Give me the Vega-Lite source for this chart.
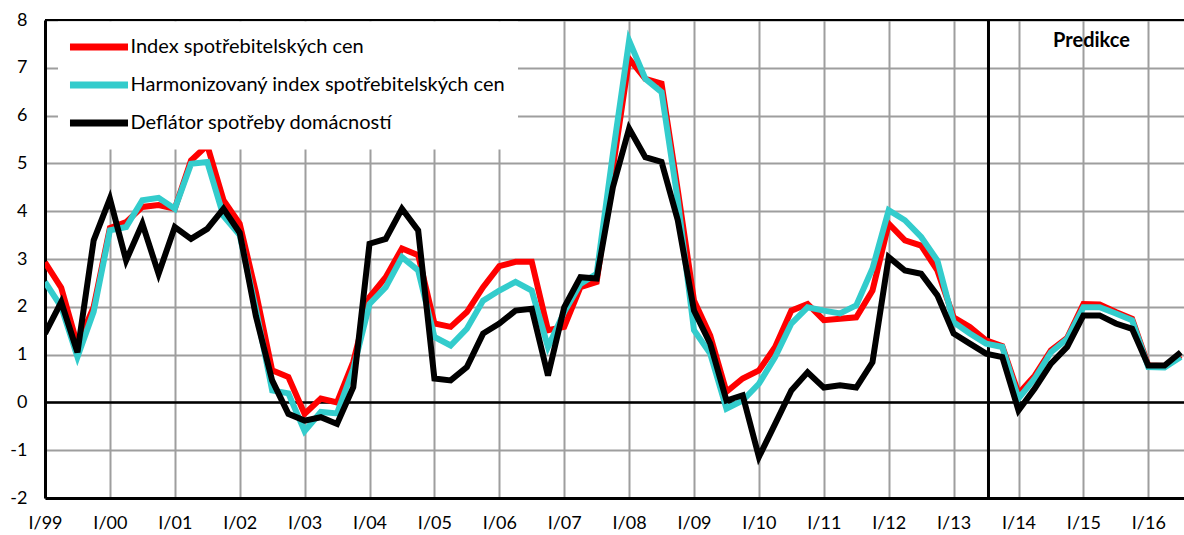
{
  "$schema": "https://vega.github.io/schema/vega-lite/v6.json",
  "width": 1139,
  "height": 478,
  "autosize": {"type": "none"},
  "padding": {"left": 45, "top": 20, "right": 0, "bottom": 37},
  "background": "white",
  "config": {
    "view": {"stroke": null},
    "font": "Lato",
    "axis": {"labelFont": "Lato", "labelFontSize": 18, "labelColor": "black", "ticks": false, "grid": true, "gridColor": "#9e9e9e", "gridWidth": 2, "domainColor": "black", "domainWidth": 3, "title": null, "labelFlush": false}
  },
  "datasets": {
    "d": [
      {"t": 0, "Index spotřebitelských cen": 2.93, "Harmonizovaný index spotřebitelských cen": 2.52, "Deflátor spotřeby domácností": 1.44},
      {"t": 1, "Index spotřebitelských cen": 2.4, "Harmonizovaný index spotřebitelských cen": 2.0, "Deflátor spotřeby domácností": 2.1},
      {"t": 2, "Index spotřebitelských cen": 1.2, "Harmonizovaný index spotřebitelských cen": 0.95, "Deflátor spotřeby domácností": 1.05},
      {"t": 3, "Index spotřebitelských cen": 2.0, "Harmonizovaný index spotřebitelských cen": 1.9, "Deflátor spotřeby domácností": 3.39},
      {"t": 4, "Index spotřebitelských cen": 3.65, "Harmonizovaný index spotřebitelských cen": 3.6, "Deflátor spotřeby domácností": 4.26},
      {"t": 5, "Index spotřebitelských cen": 3.77, "Harmonizovaný index spotřebitelských cen": 3.67, "Deflátor spotřeby domácností": 2.97},
      {"t": 6, "Index spotřebitelských cen": 4.09, "Harmonizovaný index spotřebitelských cen": 4.23, "Deflátor spotřeby domácností": 3.74},
      {"t": 7, "Index spotřebitelských cen": 4.13, "Harmonizovaný index spotřebitelských cen": 4.28, "Deflátor spotřeby domácností": 2.69},
      {"t": 8, "Index spotřebitelských cen": 4.05, "Harmonizovaný index spotřebitelských cen": 4.05, "Deflátor spotřeby domácností": 3.67},
      {"t": 9, "Index spotřebitelských cen": 5.06, "Harmonizovaný index spotřebitelských cen": 4.99, "Deflátor spotřeby domácností": 3.42},
      {"t": 10, "Index spotřebitelských cen": 5.38, "Harmonizovaný index spotřebitelských cen": 5.03, "Deflátor spotřeby domácností": 3.63},
      {"t": 11, "Index spotřebitelských cen": 4.23, "Harmonizovaný index spotřebitelských cen": 3.9, "Deflátor spotřeby domácností": 4.05},
      {"t": 12, "Index spotřebitelských cen": 3.74, "Harmonizovaný index spotřebitelských cen": 3.5, "Deflátor spotřeby domácností": 3.55},
      {"t": 13, "Index spotřebitelských cen": 2.3, "Harmonizovaný index spotřebitelských cen": 1.95, "Deflátor spotřeby domácností": 1.8},
      {"t": 14, "Index spotřebitelských cen": 0.67, "Harmonizovaný index spotřebitelských cen": 0.25, "Deflátor spotřeby domácností": 0.46},
      {"t": 15, "Index spotřebitelských cen": 0.53, "Harmonizovaný index spotřebitelských cen": 0.19, "Deflátor spotřeby domácností": -0.24},
      {"t": 16, "Index spotřebitelských cen": -0.24, "Harmonizovaný index spotřebitelských cen": -0.6, "Deflátor spotřeby domácností": -0.38},
      {"t": 17, "Index spotřebitelských cen": 0.08, "Harmonizovaný index spotřebitelských cen": -0.2, "Deflátor spotřeby domácností": -0.31},
      {"t": 18, "Index spotřebitelských cen": 0.0, "Harmonizovaný index spotřebitelských cen": -0.23, "Deflátor spotřeby domácností": -0.45},
      {"t": 19, "Index spotřebitelských cen": 0.85, "Harmonizovaný index spotřebitelských cen": 0.7, "Deflátor spotřeby domácností": 0.32},
      {"t": 20, "Index spotřebitelských cen": 2.2, "Harmonizovaný index spotřebitelských cen": 2.06, "Deflátor spotřeby domácností": 3.32},
      {"t": 21, "Index spotřebitelských cen": 2.62, "Harmonizovaný index spotřebitelských cen": 2.41, "Deflátor spotřeby domácností": 3.42},
      {"t": 22, "Index spotřebitelských cen": 3.22, "Harmonizovaný index spotřebitelských cen": 3.04, "Deflátor spotřeby domácností": 4.05},
      {"t": 23, "Index spotřebitelských cen": 3.08, "Harmonizovaný index spotřebitelských cen": 2.76, "Deflátor spotřeby domácností": 3.6},
      {"t": 24, "Index spotřebitelských cen": 1.65, "Harmonizovaný index spotřebitelských cen": 1.37, "Deflátor spotřeby domácností": 0.5},
      {"t": 25, "Index spotřebitelských cen": 1.58, "Harmonizovaný index spotřebitelských cen": 1.19, "Deflátor spotřeby domácností": 0.46},
      {"t": 26, "Index spotřebitelských cen": 1.89, "Harmonizovaný index spotřebitelských cen": 1.54, "Deflátor spotřeby domácností": 0.74},
      {"t": 27, "Index spotřebitelských cen": 2.41, "Harmonizovaný index spotřebitelských cen": 2.13, "Deflátor spotřeby domácností": 1.44},
      {"t": 28, "Index spotřebitelských cen": 2.85, "Harmonizovaný index spotřebitelských cen": 2.34, "Deflátor spotřeby domácností": 1.65},
      {"t": 29, "Index spotřebitelských cen": 2.94, "Harmonizovaný index spotřebitelských cen": 2.52, "Deflátor spotřeby domácností": 1.92},
      {"t": 30, "Index spotřebitelských cen": 2.94, "Harmonizovaný index spotřebitelských cen": 2.34, "Deflátor spotřeby domácností": 1.96},
      {"t": 31, "Index spotřebitelských cen": 1.51, "Harmonizovaný index spotřebitelských cen": 1.16, "Deflátor spotřeby domácností": 0.56},
      {"t": 32, "Index spotřebitelských cen": 1.58, "Harmonizovaný index spotřebitelských cen": 1.89, "Deflátor spotřeby domácností": 1.99},
      {"t": 33, "Index spotřebitelských cen": 2.41, "Harmonizovaný index spotřebitelských cen": 2.48, "Deflátor spotřeby domácností": 2.62},
      {"t": 34, "Index spotřebitelských cen": 2.52, "Harmonizovaný index spotřebitelských cen": 2.69, "Deflátor spotřeby domácností": 2.59},
      {"t": 35, "Index spotřebitelských cen": 4.9, "Harmonizovaný index spotřebitelských cen": 5.2, "Deflátor spotřeby domácností": 4.5},
      {"t": 36, "Index spotřebitelských cen": 7.19, "Harmonizovaný index spotřebitelských cen": 7.57, "Deflátor spotřeby domácností": 5.73},
      {"t": 37, "Index spotřebitelských cen": 6.77, "Harmonizovaný index spotřebitelských cen": 6.77, "Deflátor spotřeby domácností": 5.13},
      {"t": 38, "Index spotřebitelských cen": 6.67, "Harmonizovaný index spotřebitelských cen": 6.49, "Deflátor spotřeby domácností": 5.03},
      {"t": 39, "Index spotřebitelských cen": 4.44, "Harmonizovaný index spotřebitelských cen": 4.23, "Deflátor spotřeby domácností": 3.81},
      {"t": 40, "Index spotřebitelských cen": 2.13, "Harmonizovaný index spotřebitelských cen": 1.51, "Deflátor spotřeby domácností": 1.92},
      {"t": 41, "Index spotřebitelských cen": 1.4, "Harmonizovaný index spotřebitelských cen": 1.02, "Deflátor spotřeby domácností": 1.23},
      {"t": 42, "Index spotřebitelských cen": 0.22, "Harmonizovaný index spotřebitelských cen": -0.13, "Deflátor spotřeby domácností": 0.04},
      {"t": 43, "Index spotřebitelských cen": 0.5, "Harmonizovaný index spotřebitelských cen": 0.04, "Deflátor spotřeby domácností": 0.15},
      {"t": 44, "Index spotřebitelských cen": 0.67, "Harmonizovaný index spotřebitelských cen": 0.39, "Deflátor spotřeby domácností": -1.14},
      {"t": 45, "Index spotřebitelských cen": 1.16, "Harmonizovaný index spotřebitelských cen": 0.95, "Deflátor spotřeby domácností": -0.45},
      {"t": 46, "Index spotřebitelských cen": 1.92, "Harmonizovaný index spotřebitelských cen": 1.65, "Deflátor spotřeby domácností": 0.25},
      {"t": 47, "Index spotřebitelských cen": 2.06, "Harmonizovaný index spotřebitelských cen": 1.99, "Deflátor spotřeby domácností": 0.63},
      {"t": 48, "Index spotřebitelských cen": 1.72, "Harmonizovaný index spotřebitelských cen": 1.92, "Deflátor spotřeby domácností": 0.31},
      {"t": 49, "Index spotřebitelských cen": 1.75, "Harmonizovaný index spotřebitelských cen": 1.86, "Deflátor spotřeby domácností": 0.36},
      {"t": 50, "Index spotřebitelských cen": 1.78, "Harmonizovaný index spotřebitelských cen": 2.03, "Deflátor spotřeby domácností": 0.31},
      {"t": 51, "Index spotřebitelských cen": 2.34, "Harmonizovaný index spotřebitelských cen": 2.8, "Deflátor spotřeby domácností": 0.84},
      {"t": 52, "Index spotřebitelských cen": 3.74, "Harmonizovaný index spotřebitelských cen": 4.02, "Deflátor spotřeby domácností": 3.04},
      {"t": 53, "Index spotřebitelských cen": 3.39, "Harmonizovaný index spotřebitelských cen": 3.81, "Deflátor spotřeby domácností": 2.76},
      {"t": 54, "Index spotřebitelských cen": 3.28, "Harmonizovaný index spotřebitelských cen": 3.46, "Deflátor spotřeby domácností": 2.69},
      {"t": 55, "Index spotřebitelských cen": 2.76, "Harmonizovaný index spotřebitelských cen": 2.97, "Deflátor spotřeby domácností": 2.24},
      {"t": 56, "Index spotřebitelských cen": 1.78, "Harmonizovaný index spotřebitelských cen": 1.68, "Deflátor spotřeby domácností": 1.44},
      {"t": 57, "Index spotřebitelských cen": 1.58, "Harmonizovaný index spotřebitelských cen": 1.44, "Deflátor spotřeby domácností": 1.23},
      {"t": 58, "Index spotřebitelských cen": 1.3, "Harmonizovaný index spotřebitelských cen": 1.23, "Deflátor spotřeby domácností": 1.02},
      {"t": 59, "Index spotřebitelských cen": 1.18, "Harmonizovaný index spotřebitelských cen": 1.16, "Deflátor spotřeby domácností": 0.95},
      {"t": 60, "Index spotřebitelských cen": 0.18, "Harmonizovaný index spotřebitelských cen": 0.08, "Deflátor spotřeby domácností": -0.17},
      {"t": 61, "Index spotřebitelských cen": 0.56, "Harmonizovaný index spotřebitelských cen": 0.5, "Deflátor spotřeby domácností": 0.29},
      {"t": 62, "Index spotřebitelských cen": 1.09, "Harmonizovaný index spotřebitelských cen": 1.05, "Deflátor spotřeby domácností": 0.81},
      {"t": 63, "Index spotřebitelských cen": 1.35, "Harmonizovaný index spotřebitelských cen": 1.33, "Deflátor spotřeby domácností": 1.16},
      {"t": 64, "Index spotřebitelských cen": 2.06, "Harmonizovaný index spotřebitelských cen": 1.99, "Deflátor spotřeby domácností": 1.82},
      {"t": 65, "Index spotřebitelských cen": 2.05, "Harmonizovaný index spotřebitelských cen": 1.99, "Deflátor spotřeby domácností": 1.82},
      {"t": 66, "Index spotřebitelských cen": 1.89, "Harmonizovaný index spotřebitelských cen": 1.86, "Deflátor spotřeby domácností": 1.65},
      {"t": 67, "Index spotřebitelských cen": 1.75, "Harmonizovaný index spotřebitelských cen": 1.72, "Deflátor spotřeby domácností": 1.54},
      {"t": 68, "Index spotřebitelských cen": 0.77, "Harmonizovaný index spotřebitelských cen": 0.74, "Deflátor spotřeby domácností": 0.77},
      {"t": 69, "Index spotřebitelských cen": 0.76, "Harmonizovaný index spotřebitelských cen": 0.73, "Deflátor spotřeby domácností": 0.77},
      {"t": 70, "Index spotřebitelských cen": 0.98, "Harmonizovaný index spotřebitelských cen": 0.95, "Deflátor spotřeby domácností": 1.05}
    ],
    "notes": [{"label": "Predikce", "t": 64.5, "v": 7.57}],
    "one": [{}]
  },
  "layer": [
    {
      "data": {"name": "one"},
      "mark": {"type": "rule", "color": "black", "strokeWidth": 2.5},
      "encoding": {"y": {"datum": 0, "type": "quantitative"}}
    },
    {
      "data": {"name": "one"},
      "mark": {"type": "rule", "color": "black", "strokeWidth": 3},
      "encoding": {"x": {"datum": 58.15, "type": "quantitative"}}
    },
    {
      "data": {"name": "d"},
      "transform": [
        {"fold": ["Index spotřebitelských cen", "Harmonizovaný index spotřebitelských cen", "Deflátor spotřeby domácností"], "as": ["series", "value"]}
      ],
      "mark": {"type": "line", "strokeWidth": 6, "clip": true},
      "encoding": {
        "x": {
          "field": "t", "type": "quantitative",
          "scale": {"domain": [0, 70.2], "nice": false, "zero": false},
          "axis": {
            "values": [0, 4, 8, 12, 16, 20, 24, 28, 32, 36, 40, 44, 48, 52, 56, 60, 64, 68],
            "labelExpr": "'I/' + ((99 + datum.value / 4) % 100 < 10 ? '0' : '') + ((99 + datum.value / 4) % 100)",
            "labelPadding": 16
          }
        },
        "y": {
          "field": "value", "type": "quantitative",
          "scale": {"domain": [-2, 8], "nice": false},
          "axis": {"values": [-2, -1, 0, 1, 2, 3, 4, 5, 6, 7, 8], "labelExpr": "datum.value + ''", "labelPadding": 18}
        },
        "color": {
          "field": "series", "type": "nominal",
          "scale": {
            "domain": ["Index spotřebitelských cen", "Harmonizovaný index spotřebitelských cen", "Deflátor spotřeby domácností"],
            "range": ["#ff0000", "#33cccc", "#000000"]
          },
          "legend": {
            "title": null, "orient": "none", "legendX": 13, "legendY": 1.5,
            "fillColor": "white", "padding": 12,
            "symbolType": "M-3,0H3", "symbolSize": 374, "symbolStrokeWidth": 7, "symbolOffset": 15.5,
            "labelFont": "Lato", "labelFontSize": 20, "labelColor": "black", "labelLimit": 600, "labelOffset": 18,
            "rowPadding": 9,
            "symbolFillColor": "transparent"
          }
        }
      }
    },
    {
      "data": {"name": "one"},
      "mark": {"type": "rule", "color": "black", "strokeWidth": 2},
      "encoding": {"y": {"datum": 8, "type": "quantitative"}}
    },
    {
      "data": {"name": "notes"},
      "mark": {"type": "text", "font": "Lato", "fontWeight": "bold", "fontSize": 20, "color": "black", "baseline": "middle", "align": "center"},
      "encoding": {
        "x": {"field": "t", "type": "quantitative"},
        "y": {"field": "v", "type": "quantitative"},
        "text": {"field": "label"}
      }
    }
  ]
}
